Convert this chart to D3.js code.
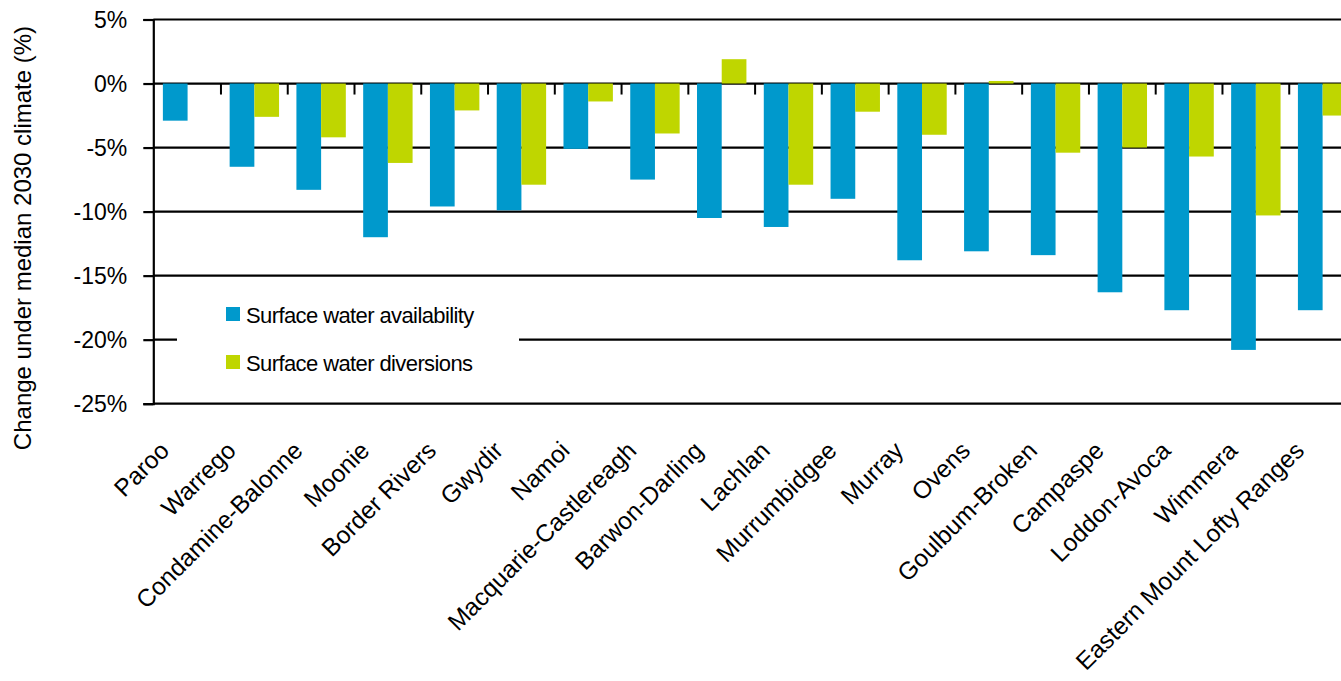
<!DOCTYPE html>
<html>
<head>
<meta charset="utf-8">
<script src="https://cdn.jsdelivr.net/npm/d3@7"></script>
<style>
  html, body { margin: 0; padding: 0; background: #fff; }
  svg { display: block; font-family: "Liberation Sans", Arial, sans-serif; }
</style>
</head>
<body>
<svg id="chart" width="1341" height="681"></svg>
<script>
// Murray-Darling regions
const regions = [
  "Paroo", "Warrego", "Condamine-Balonne", "Moonie", "Border Rivers", "Gwydir",
  "Namoi", "Macquarie-Castlereagh", "Barwon-Darling", "Lachlan", "Murrumbidgee",
  "Murray", "Ovens", "Goulbum-Broken", "Campaspe", "Loddon-Avoca", "Wimmera",
  "Eastern Mount Lofty Ranges"
];

// Percentage change under the median 2030 climate
const availability = [
  -2.9, -6.5, -8.3, -12.0, -9.6, -9.9, -5.1, -7.5, -10.5,
  -11.2, -9.0, -13.8, -13.1, -13.4, -16.3, -17.7, -20.8, -17.7
];
const diversions = [
  0, -2.6, -4.2, -6.2, -2.1, -7.9, -1.4, -3.9, 1.9,
  -7.9, -2.2, -4.0, 0.2, -5.4, -5.0, -5.7, -10.3, -2.5
];

const seriesNames = ["Surface water availability", "Surface water diversions"];
const seriesColors = ["#0099cc", "#bfd600"];
const yTicks = [5, 0, -5, -10, -15, -20, -25];
const yTitle = "Change under median 2030 climate (%)";

const svg = d3.select("#chart");

const x0 = d3.scaleBand().domain(regions).range([154.2, 1356]).paddingInner(0).paddingOuter(0);
const gap = x0.bandwidth() * 0.13;
const x1 = d3.scaleBand().domain(seriesNames).range([gap, x0.bandwidth() - gap]);
const y = d3.scaleLinear().domain([-25, 5]).range([403.7, 19.5]);

const axisX = 153.3;

// horizontal gridlines
svg.append("g").selectAll("line").data(yTicks).join("line")
  .attr("x1", axisX).attr("x2", 1356)
  .attr("y1", d => y(d)).attr("y2", d => y(d))
  .attr("stroke", "#000").attr("stroke-width", 2.2);

// grouped bars
const rows = regions.map((r, i) => ({ region: r, values: [availability[i], diversions[i]] }));
const groups = svg.append("g").selectAll("g").data(rows).join("g")
  .attr("transform", d => `translate(${x0(d.region)},0)`);
groups.selectAll("rect").data(d => d.values.map((v, k) => ({ v, k }))).join("rect")
  .attr("x", d => x1(seriesNames[d.k]))
  .attr("width", x1.bandwidth())
  .attr("y", d => y(Math.max(0, d.v)))
  .attr("height", d => Math.abs(y(d.v) - y(0)))
  .attr("fill", d => seriesColors[d.k]);

// category tick marks hanging from the zero line
svg.append("g").selectAll("line").data(regions.slice(1)).join("line")
  .attr("x1", d => x0(d)).attr("x2", d => x0(d))
  .attr("y1", y(0)).attr("y2", y(0) + 11)
  .attr("stroke", "#000").attr("stroke-width", 2);

// y axis
const yAxis = d3.axisLeft(y).tickValues(yTicks).tickSize(10).tickPadding(16)
  .tickFormat(d => d + "%");
const gy = svg.append("g").attr("transform", `translate(${axisX},0)`).call(yAxis);
gy.select(".domain").attr("stroke", "#000").attr("stroke-width", 2.2);
gy.selectAll(".tick line").attr("stroke", "#000").attr("stroke-width", 2.2);
gy.selectAll(".tick text").attr("font-size", 23).attr("fill", "#000")
  .attr("font-family", "Liberation Sans, Arial, sans-serif").attr("dy", "0.36em");

// y axis title
svg.append("text")
  .attr("transform", "translate(31,238) rotate(-90)")
  .attr("text-anchor", "middle")
  .attr("font-size", 24)
  .attr("fill", "#000")
  .text(yTitle);

// rotated category labels
svg.append("g").selectAll("text").data(regions).join("text")
  .attr("transform", d => `translate(${x0(d) + x0.bandwidth() / 2 - 17},452) rotate(-45)`)
  .attr("text-anchor", "end")
  .attr("font-size", 24.5)
  .attr("fill", "#000")
  .text(d => d);

// legend
const legend = svg.append("g");
legend.append("rect").attr("x", 177).attr("y", 288).attr("width", 342).attr("height", 100).attr("fill", "#fff");
const items = legend.selectAll("g.item").data(seriesNames).join("g").attr("class", "item")
  .attr("transform", (d, i) => `translate(226,${307 + i * 48})`);
items.append("rect").attr("width", 14).attr("height", 14).attr("fill", (d, i) => seriesColors[i]);
items.append("text").attr("x", 20).attr("y", 15.5)
  .attr("font-size", 22).attr("letter-spacing", -0.6).attr("fill", "#000")
  .text(d => d);
</script>
</body>
</html>
